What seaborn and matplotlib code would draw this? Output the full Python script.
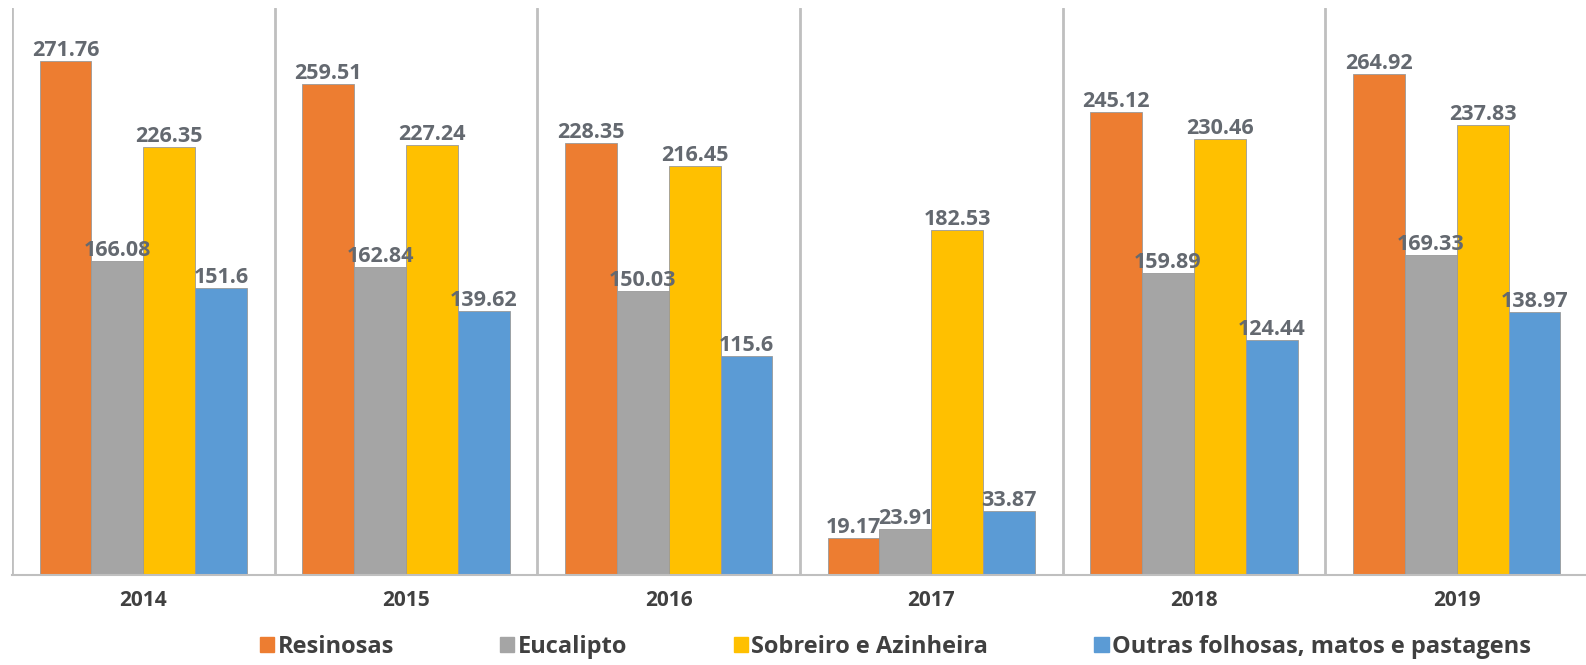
import matplotlib
matplotlib.use("Agg")
import matplotlib.pyplot as plt
import seaborn as sns
import pandas as pd
from matplotlib.patches import Patch

years = ["2014", "2015", "2016", "2017", "2018", "2019"]
series = ["Resinosas", "Eucalipto", "Sobreiro e Azinheira", "Outras folhosas, matos e pastagens"]
resinosas = [271.76, 259.51, 228.35, 19.17, 245.12, 264.92]
eucalipto = [166.08, 162.84, 150.03, 23.91, 159.89, 169.33]
sobreiro = [226.35, 227.24, 216.45, 182.53, 230.46, 237.83]
outras = [151.6, 139.62, 115.6, 33.87, 124.44, 138.97]
colors = ["#ED7D31", "#A5A5A5", "#FFC000", "#5B9BD5"]

rows = []
for s, vals in zip(series, [resinosas, eucalipto, sobreiro, outras]):
    for y, v in zip(years, vals):
        rows.append({"Ano": y, "Serie": s, "Valor": v})
df = pd.DataFrame(rows)

sns.set_style("white")
plt.rcParams['font.family'] = ['Open Sans', 'DejaVu Sans']

W, H = 1586, 665
fig = plt.figure(figsize=(W / 100, H / 100), dpi=100)
ax_left, ax_right, ax_top, ax_bottom = 12, 1588, 8, 574.5
ax = fig.add_axes([ax_left / W, 1 - ax_bottom / H, (ax_right - ax_left) / W, (ax_bottom - ax_top) / H])

sns.barplot(data=df, x="Ano", y="Valor", hue="Serie", order=years, hue_order=series,
            palette=colors, width=0.79, ax=ax, legend=False, errorbar=None, saturation=1)

for p in ax.patches:
    p.set_edgecolor('#9a9a9a')
    p.set_linewidth(0.6)

for cont, vals in zip(ax.containers, [resinosas, eucalipto, sobreiro, outras]):
    labels = [f"{v:g}" for v in vals]
    ax.bar_label(cont, labels=labels, padding=0, fontsize=15.5, fontweight='bold', color='#646970')

ax.set_xlim(-0.5, len(years) - 0.5)
ax.set_ylim(0, 300)
for i in range(len(years) + 1):
    ax.axvline(i - 0.5, color='#BFBFBF', lw=2, zorder=0)

for sp in ["top", "right", "left"]:
    ax.spines[sp].set_visible(False)
ax.spines["bottom"].set_color('#BFBFBF')
ax.spines["bottom"].set_linewidth(1.5)
ax.set_yticks([])
ax.set_xlabel("")
ax.set_ylabel("")
ax.tick_params(axis='x', length=0, pad=11, labelsize=15)
for t in ax.get_xticklabels():
    t.set_fontweight('bold')
    t.set_color('#404040')

handles = [Patch(facecolor=c, edgecolor=c) for c in colors]
fig.legend(handles, series, loc='center', bbox_to_anchor=(895.5 / W, 1 - 647 / H), ncol=4,
           frameon=False, handlelength=0.6, handleheight=0.6, handletextpad=0.15,
           columnspacing=4.5, labelcolor='#404040', prop={'weight': 'bold', 'size': 17})

fig.savefig("out.png", dpi=100)
